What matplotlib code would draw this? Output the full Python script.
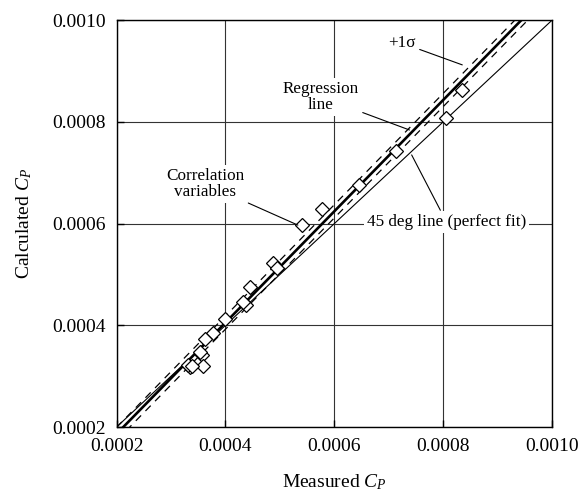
import matplotlib
matplotlib.use("Agg")

import matplotlib.pyplot as plt
import numpy as np


# measured vs calculated power coefficient
measured_cp = [0.000835, 0.000806, 0.000713, 0.000645, 0.000577, 0.000541,
               0.000487, 0.000495, 0.000445, 0.000438, 0.000432, 0.000400,
               0.000378, 0.000363, 0.000357, 0.000354, 0.000359, 0.000335,
               0.000332, 0.000339]
calculated_cp = [0.000862, 0.000807, 0.000743, 0.000676, 0.000628, 0.000597,
                 0.000522, 0.000513, 0.000475, 0.000440, 0.000446, 0.000412,
                 0.000385, 0.000373, 0.000342, 0.000347, 0.000320, 0.000318,
                 0.000322, 0.000320]

# regression fit y = slope * x + intercept, with a one-sigma band
reg_slope = 1.094
reg_intercept = -0.0000322
sigma = 0.000013

axis_min, axis_max = 0.0002, 0.0010
ticks = [0.0002, 0.0004, 0.0006, 0.0008, 0.0010]
tick_labels = ["0.0002", "0.0004", "0.0006", "0.0008", "0.0010"]

plt.rcParams["font.family"] = ["Liberation Serif", "DejaVu Serif"]
plt.rcParams["mathtext.fontset"] = "custom"
plt.rcParams["mathtext.rm"] = "Liberation Serif"
plt.rcParams["mathtext.it"] = "Liberation Serif:italic"

fig = plt.figure(figsize=(5.83, 5.03), dpi=100)
ax = fig.add_axes([0.200, 0.151, 0.747, 0.809])

xs = np.array([axis_min, axis_max])
reg = reg_slope * xs + reg_intercept

ax.plot(xs, xs, color="black", lw=0.8)
ax.plot(xs, reg, color="black", lw=1.9)
ax.plot(xs, reg + sigma, color="black", lw=0.9, dashes=(6, 5))
ax.plot(xs, reg - sigma, color="black", lw=0.9, dashes=(6, 5))

ax.plot(measured_cp, calculated_cp, "D", ms=7, mfc="white", mec="black",
        mew=0.9, ls="none", zorder=3)

ax.set_xlim(axis_min, axis_max)
ax.set_ylim(axis_min, axis_max)
ax.set_xticks(ticks)
ax.set_xticklabels(tick_labels)
ax.set_yticks(ticks)
ax.set_yticklabels(tick_labels)
ax.tick_params(direction="in", length=5, width=1, labelsize=14, pad=8,
               colors="black")
ax.grid(True, color="#333333", lw=0.8)
for spine in ax.spines.values():
    spine.set_linewidth(1.0)

ax.set_xlabel("Measured $C_P$", fontsize=14, labelpad=12)
ax.set_ylabel("Calculated $C_P$", fontsize=14, labelpad=13)

arrow = dict(arrowstyle="-", color="black", lw=0.8, shrinkA=1, shrinkB=0)
white_box = dict(boxstyle="square,pad=0.15", fc="white", ec="none")

ax.annotate("+1\u03c3", xy=(0.000835, 0.000912), xytext=(0.000724, 0.000955),
            fontsize=12.3, ha="center", va="center", arrowprops=arrow,
            zorder=4)
ax.annotate("Regression\nline", xy=(0.000738, 0.000784),
            xytext=(0.000575, 0.000849), fontsize=12.3, ha="center",
            va="center", linespacing=1.05, arrowprops=arrow, bbox=white_box,
            zorder=4)
ax.annotate("Correlation\nvariables", xy=(0.000533, 0.000597),
            xytext=(0.000363, 0.000678), fontsize=12.3, ha="center",
            va="center", linespacing=1.05, arrowprops=arrow, bbox=white_box,
            zorder=4)
ax.annotate("45 deg line (perfect fit)", xy=(0.000742, 0.000735),
            xytext=(0.000806, 0.000603), fontsize=12.3, ha="center",
            va="center", arrowprops=arrow, bbox=white_box, zorder=4)

fig.savefig("out.png", dpi=100)
